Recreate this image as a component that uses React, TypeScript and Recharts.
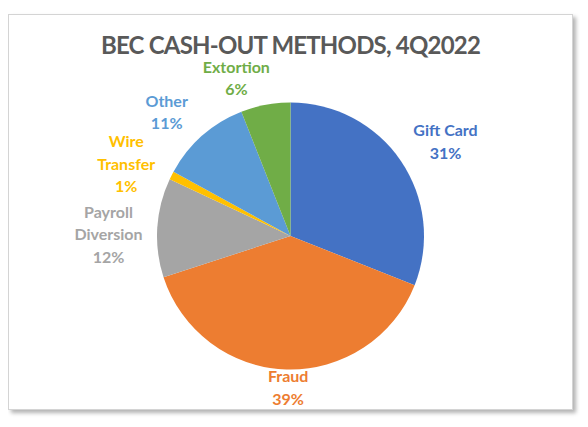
import React from 'react';
import { PieChart, Pie, Cell } from 'recharts';

const title = 'BEC CASH-OUT METHODS, 4Q2022';
const categories = ['Gift Card', 'Fraud', 'Payroll Diversion', 'Wire Transfer', 'Other', 'Extortion'];
const labelLines = [['Gift Card'], ['Fraud'], ['Payroll', 'Diversion'], ['Wire', 'Transfer'], ['Other'], ['Extortion']];
const shares = [31, 39, 12, 1, 11, 6];
const colors = ['#4472C4', '#ED7D31', '#A5A5A5', '#FFC000', '#5B9BD5', '#70AD47'];

// label placement (radial distance from center, clockwise angle shift in degrees)
const labelRadius = [182, 150.5, 182, 180, 176, 168];
const labelAngleShift = [2.6, -0.9, -2.7, -2.9, -3.3, -8];

const data = categories.map((name, i) => ({ name, value: shares[i] }));

const FONT = 'Lato, "Open Sans", sans-serif';
const RAD = Math.PI / 180;
const LINE_H = 22.5;

const renderLabel = (props: any) => {
  const { cx, cy, midAngle, index, value } = props;
  const ang = midAngle - labelAngleShift[index];
  const r = labelRadius[index];
  const x = cx + r * Math.cos(-ang * RAD);
  const y = cy + r * Math.sin(-ang * RAD);
  const lines = [...labelLines[index], `${value}%`];
  const y0 = y - ((lines.length - 1) * LINE_H) / 2;
  return (
    <text
      key={`lbl-${index}`}
      x={x}
      y={y0}
      textAnchor="middle"
      dominantBaseline="central"
      fill={colors[index]}
      fontFamily={FONT}
      fontWeight={700}
      fontSize={16}
    >
      {lines.map((l, k) => (
        <tspan key={k} x={x} y={y0 + k * LINE_H} dominantBaseline="central">
          {l}
        </tspan>
      ))}
    </text>
  );
};

export default function App() {
  return (
    <div style={{ paddingTop: 6, paddingBottom: 14 }}>
      <div
        style={{
          position: 'relative',
          width: 565,
          height: 396,
          boxSizing: 'border-box',
          border: '1px solid #d4d4d4',
          boxShadow: '3px 3px 4px rgba(0,0,0,0.3)',
          background: '#fff',
        }}
      >
        <div
          style={{
            position: 'absolute',
            left: 0,
            right: 0,
            top: 18,
            textAlign: 'center',
            fontFamily: FONT,
            fontWeight: 700,
            fontSize: 24,
            letterSpacing: -0.8,
            lineHeight: '24px',
            color: '#595959',
          }}
        >
          {title}
        </div>
        <PieChart width={563} height={394} margin={{ top: 0, right: 0, bottom: 0, left: 0 }}>
          <Pie
            data={data}
            dataKey="value"
            nameKey="name"
            cx={281.5}
            cy={221}
            outerRadius={133.5}
            startAngle={90}
            endAngle={-270}
            stroke="none"
            labelLine={false}
            label={renderLabel}
            isAnimationActive={false}
          >
            {data.map((d, i) => (
              <Cell key={d.name} fill={colors[i]} />
            ))}
          </Pie>
        </PieChart>
      </div>
    </div>
  );
}
